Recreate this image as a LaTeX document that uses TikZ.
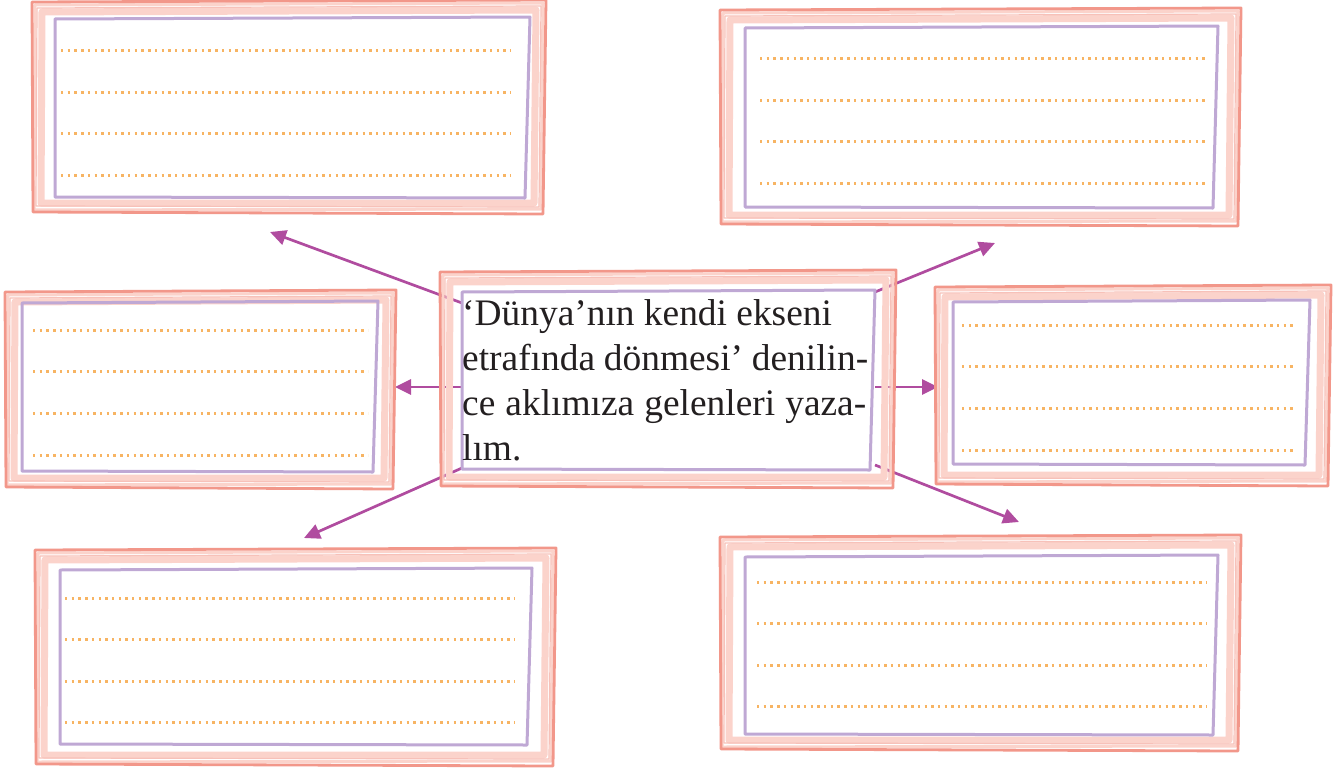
\documentclass[tikz,border=0pt]{standalone}
\usepackage{fontspec}
\setmainfont{Liberation Serif}
\usetikzlibrary{arrows.meta}
\definecolor{salmon}{HTML}{F2978A}
\definecolor{pinkl}{HTML}{FBD3CB}
\definecolor{purp}{HTML}{BFA8D4}
\definecolor{dotc}{HTML}{F7B463}
\definecolor{mag}{HTML}{B04C9F}
\definecolor{ink}{HTML}{231F20}
\tikzset{
  band/.style={pinkl, line width=7pt, line join=round},
  bandthin/.style={pinkl, line width=3pt, line join=round},
  outerline/.style={salmon, line width=2.8pt, line join=round},
  outerthin/.style={salmon!60!white, line width=1.2pt, line join=round},
  innerline/.style={purp, line width=3pt, line join=round},
  dotline/.style={dotc, line width=3pt, dash pattern=on 2.4pt off 4.3pt},
  arr/.style={mag, line width=2.7pt, -{Triangle[length=16pt,width=15pt]}},
  txt/.style={anchor=base west, inner sep=0pt, text=ink, font=\fontsize{37.4}{45}\selectfont},
  holder/.style={inner sep=0pt, outer sep=0pt}
}
% outer sketchy frame: x1 y1 x2 y2
\newcommand\skouter[4]{%
  \draw[bandthin] ({#1+3},{#2+5}) -- ({#3-2},{#2+3}) -- ({#3-4},{#4-4}) -- ({#1+2},{#4-3}) -- cycle;
  \draw[band] ({#1+10},{#2+12}) -- ({#3-9},{#2+10}) -- ({#3-11},{#4-10}) -- ({#1+9},{#4-10}) -- cycle;
  \draw[outerthin] ({#1+5},{#2+8}) -- ({#3-4},{#2+6}) -- ({#3-6},{#4-6}) -- ({#1+4},{#4-7}) -- cycle;
  \draw[outerline] ({#1},{#2+2}) -- ({#3+1},{#2}) -- ({#3-2},{#4+1}) -- ({#1+1},{#4-1}) -- cycle;
}
% inner purple frame with a named node: name x1 y1 x2 y2
\newcommand\skinner[5]{%
  \node[holder, minimum width={#4-#2}, minimum height={#5-#3}] (#1) at ({(#2+#4)/2},{(#3+#5)/2}) {};
  \draw[innerline] ({#2},{#3+2}) -- ({#4},{#3}) -- ({#4-5},{#5}) -- ({#2},{#5-1}) -- cycle;
}
\begin{document}
\begin{tikzpicture}[x=1pt,y=-1pt]
\useasboundingbox (0,0) rectangle (1344,771);
% connector end points
\coordinate (s1) at (462,303); \coordinate (e1) at (270,232);
\coordinate (s2) at (462,387); \coordinate (e2) at (395,387);
\coordinate (s3) at (462,468); \coordinate (e3) at (304,538);
\coordinate (s4) at (875,292); \coordinate (e4) at (995,243);
\coordinate (s5) at (875,387); \coordinate (e5) at (938,387);
\coordinate (s6) at (875,465); \coordinate (e6) at (1019,522);
% arrows
\draw[arr] (s1) -- (e1);
\draw[arr] (s2) -- (e2);
\draw[arr] (s3) -- (e3);
\draw[arr] (s4) -- (e4);
\draw[arr] (s5) -- (e5);
\draw[arr] (s6) -- (e6);

% top-left box
\skouter{32}{0}{545}{213}
\skinner{tl}{55}{17}{530}{198}
\foreach \y in {50,92,133,175} \draw[dotline] (61,\y) -- (510,\y);

% top-right box
\skouter{720}{8}{1240}{225}
\skinner{tr}{745}{26}{1218}{208}
\foreach \y in {58,100,141,183} \draw[dotline] (760,\y) -- (1208,\y);

% middle-left box
\skouter{5}{290}{395}{488}
\skinner{ml}{22}{301}{378}{472}
\foreach \y in {330,371,413,455} \draw[dotline] (33,\y) -- (368,\y);

% middle-right box
\skouter{935}{285}{1330}{485}
\skinner{mr}{953}{300}{1310}{465}
\foreach \y in {325,366,408,450} \draw[dotline] (962,\y) -- (1296,\y);

% bottom-left box
\skouter{35}{548}{555}{765}
\skinner{bl}{60}{568}{532}{745}
\foreach \y in {598,639,681,722} \draw[dotline] (65,\y) -- (515,\y);

% bottom-right box
\skouter{720}{535}{1240}{750}
\skinner{br}{745}{555}{1218}{735}
\foreach \y in {582,623,665,706} \draw[dotline] (757,\y) -- (1207,\y);

% centre box
\skouter{440}{270}{895}{487}
\skinner{c}{462}{290}{875}{470}
\node[txt] (l1) at (462,325) {‘Dünya’nın kendi ekseni};
\node[txt] (l2) at (462,370) {\makebox[406pt][s]{etrafında dönmesi’ denilin-}};
\node[txt] (l3) at (462,415) {\makebox[404pt][s]{ce aklımıza gelenleri yaza-}};
\node[txt] (l4) at (462,460) {lım.};
\end{tikzpicture}
\end{document}
